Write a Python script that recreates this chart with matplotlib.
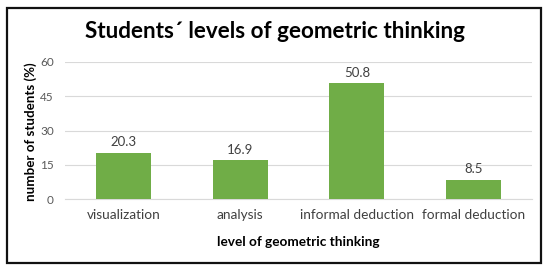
import matplotlib
matplotlib.use("Agg")
import matplotlib.pyplot as plt
from matplotlib.patches import Rectangle

categories = ["visualization", "analysis", "informal deduction", "formal deduction"]
values = [20.3, 16.9, 50.8, 8.5]
yticks = [0, 15, 30, 45, 60]

plt.rcParams['font.family'] = ['Lato', 'DejaVu Sans']

W, H = 550, 273
fig = plt.figure(figsize=(W/100, H/100), dpi=100)
ax = fig.add_axes([65/W, 1-199/H, (532-65)/W, (199-62)/H])

x = list(range(len(categories)))
bars = ax.bar(x, values, width=0.47, color="#70AD47", zorder=3)
for xi, v in zip(x, values):
    ax.annotate(f"{v}", (xi, v), xytext=(0, 3), textcoords="offset points",
                ha="center", va="bottom", fontsize=9.5, color="#404040")

ax.set_xlim(-0.5, len(categories)-0.5)
ax.set_ylim(0, 60)
ax.set_yticks(yticks)
ax.set_yticklabels([str(t) for t in yticks], fontsize=8.5, color="#595959")
ax.set_xticks(x)
ax.set_xticklabels(categories, fontsize=9.8, color="#404040")
ax.tick_params(axis='both', length=0)
ax.tick_params(axis='x', pad=7)
ax.tick_params(axis='y', pad=8)
ax.grid(axis='y', color="#D9D9D9", linewidth=0.8, zorder=0)
for s in ['top', 'right', 'left']:
    ax.spines[s].set_visible(False)
ax.spines['bottom'].set_color("#D9D9D9")
ax.spines['bottom'].set_linewidth(0.8)

ax.set_xlabel("level of geometric thinking", fontsize=9.8, fontweight='bold', labelpad=11)
ax.set_ylabel("number of students (%)", fontsize=9.6, fontweight='bold')
ax.yaxis.set_label_coords((37-65)/467, 0.49)

fig.text(0.5, 1-32/H, "Students´ levels of geometric thinking", ha="center", va="center",
         fontsize=16.2, fontweight='bold', color="#000000")

fig.patches.append(Rectangle((7/W, 1-263/H), (541-7)/W, (263-8)/H, transform=fig.transFigure,
                             fill=False, edgecolor="#111111", linewidth=1.6))

fig.savefig("out.png", dpi=100)
